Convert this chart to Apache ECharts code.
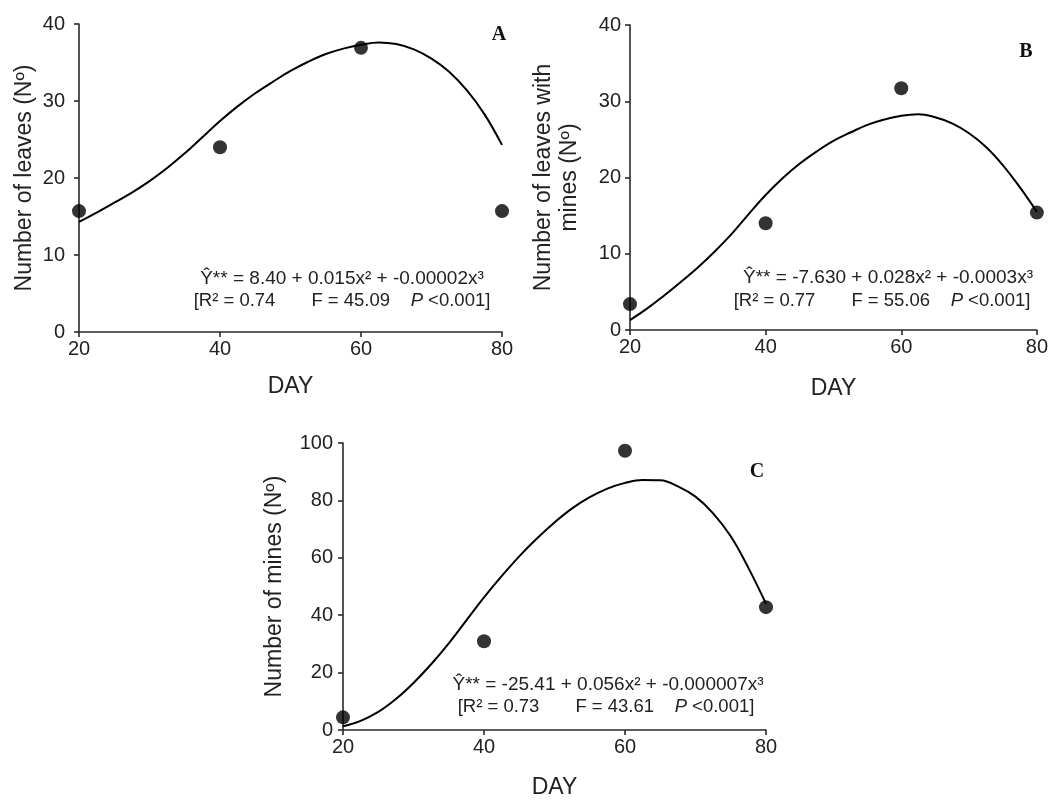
<!DOCTYPE html>
<html><head><meta charset="utf-8">
<script src="https://cdn.jsdelivr.net/npm/echarts@6/dist/echarts.min.js"></script>
<style>html,body{margin:0;padding:0;background:#fff}#c{width:1051px;height:800px}</style>
</head><body><div id="c"></div>
<script>
// Observed data (DAY vs value)
const days = [20, 40, 60, 80];
const leavesA = [15.7, 24.0, 36.9, 15.7];
const minedLeavesB = [3.4, 14.0, 31.7, 15.4];
const minesC = [4.4, 30.9, 97.3, 42.8];

// Fitted curves, every 2.5 days
const fitDays = [20, 22.5, 25, 27.5, 30, 32.5, 35, 37.5, 40, 42.5, 45, 47.5, 50,
                 52.5, 55, 57.5, 60, 62.5, 65, 67.5, 70, 72.5, 75, 77.5, 80];
const fitA = [14.3, 15.5, 16.8, 18.1, 19.6, 21.3, 23.2, 25.3, 27.4, 29.3, 31.0, 32.5, 33.9,
              35.1, 36.1, 36.8, 37.3, 37.6, 37.4, 36.7, 35.5, 33.8, 31.4, 28.3, 24.3];
const fitB = [1.3, 2.8, 4.5, 6.3, 8.2, 10.3, 12.6, 15.2, 17.7, 19.9, 21.8, 23.4, 24.8,
              25.9, 26.9, 27.6, 28.1, 28.3, 27.9, 27.1, 25.8, 24.0, 21.6, 18.7, 15.5];
const fitC = [1.3, 3.2, 6.3, 10.8, 16.4, 22.9, 30.2, 38.2, 46.2, 53.6, 60.5, 66.7, 72.3,
              77.2, 81.1, 84.1, 86.1, 87.1, 87.0, 84.9, 81.3, 75.5, 67.5, 56.5, 44.0];

const xTicks = [20, 40, 60, 80];
const yTicksA = [0, 10, 20, 30, 40];
const yTicksC = [0, 20, 40, 60, 80, 100];

const eqA = ['Ŷ** = 8.40 + 0.015x² + -0.00002x³', '[R² = 0.74', 'F = 45.09', '<0.001]'];
const eqB = ['Ŷ** = -7.630 + 0.028x² + -0.0003x³', '[R² = 0.77', 'F = 55.06', '<0.001]'];
const eqC = ['Ŷ** = -25.41 + 0.056x² + -0.000007x³', '[R² = 0.73', 'F = 43.61', '<0.001]'];

const FONT = '"Liberation Sans", Arial, sans-serif';
const AX = '#2a2a2a';
const TXT = '#222';

function xAx(gi, gap) {
  return {
    type: 'value', gridIndex: gi, min: 20, max: 80, interval: 20,
    name: 'DAY', nameLocation: 'middle', nameGap: gap,
    nameTextStyle: { fontFamily: FONT, fontSize: 23, color: TXT },
    axisLine: { show: true, lineStyle: { color: AX, width: 1.6 } },
    axisTick: { show: true, length: 5, lineStyle: { color: AX, width: 1.6 } },
    axisLabel: { fontFamily: FONT, fontSize: 20, color: TXT, margin: 7 },
    splitLine: { show: false }
  };
}
function yAx(gi, max, interval, name, gap, margin) {
  return {
    type: 'value', gridIndex: gi, min: 0, max: max, interval: interval,
    name: name, nameLocation: 'middle', nameGap: gap,
    nameTextStyle: { fontFamily: FONT, fontSize: 23, color: TXT, lineHeight: 26 },
    axisLine: { show: true, lineStyle: { color: AX, width: 1.6 } },
    axisTick: { show: true, length: 5, lineStyle: { color: AX, width: 1.6 } },
    axisLabel: { fontFamily: FONT, fontSize: 20, color: TXT, margin: margin },
    splitLine: { show: false }
  };
}
function pairs(xs, ys) { return xs.map((x, i) => [x, ys[i]]); }
function scat(i, ys) {
  return { type: 'scatter', xAxisIndex: i, yAxisIndex: i, data: pairs(days, ys),
    symbol: 'circle', symbolSize: 14, itemStyle: { color: '#000' }, z: 3 };
}
function fit(i, ys) {
  return { type: 'line', xAxisIndex: i, yAxisIndex: i, data: pairs(fitDays, ys), smooth: 0.4,
    showSymbol: false, lineStyle: { color: '#000', width: 2 }, z: 2 };
}
function eqText(eq, cx1, cx2, y1, y2) {
  return [
    { type: 'text', x: cx1, y: y1,
      style: { text: eq[0], fill: TXT, font: '19px ' + FONT, textAlign: 'center', textVerticalAlign: 'middle' } },
    { type: 'text', x: cx2, y: y2,
      style: { text: '{a|' + eq[1] + '}       {a|' + eq[2] + '}    {i|P} {a|' + eq[3] + '}',
        rich: { a: { fontFamily: FONT, fontSize: 18.5, color: TXT },
                i: { fontFamily: FONT, fontSize: 18.5, fontStyle: 'italic', color: TXT } },
        fill: TXT, font: '18.5px ' + FONT, textAlign: 'center', textVerticalAlign: 'middle' } }
  ];
}
function panelLabel(t, x, y) {
  return { type: 'text', x: x, y: y,
    style: { text: t, fill: '#111', font: 'bold 20px "Liberation Serif", "Times New Roman", serif', textAlign: 'center', textVerticalAlign: 'middle' } };
}

const chart = echarts.init(document.getElementById('c'), null, { renderer: 'canvas' });
chart.setOption({
  backgroundColor: '#fff',
  animation: false,
  grid: [
    { left: 79, top: 24, width: 423, height: 308 },
    { left: 630, top: 25, width: 408, height: 305 },
    { left: 343, top: 443, width: 423, height: 292 }
  ],
  xAxis: [xAx(0, 43), xAx(1, 47), xAx(2, 46)],
  yAxis: [
    yAx(0, 40, 10, 'Number of leaves (Nº)', 41, 14),
    yAx(1, 40, 10, 'Number of leaves with\nmines (Nº)', 47, 9),
    yAx(2, 100, 20, 'Number of mines (Nº)', 55, 10)
  ],
  series: [
    fit(0, fitA), scat(0, leavesA),
    fit(1, fitB), scat(1, minedLeavesB),
    fit(2, fitC), scat(2, minesC)
  ],
  graphic: [].concat(
    eqText(eqA, 342, 342, 279, 301), eqText(eqB, 888, 882, 278, 301), eqText(eqC, 608, 606, 685, 707),
    [panelLabel('A', 499, 35), panelLabel('B', 1026, 52), panelLabel('C', 757, 472)]
  )
});
</script></body></html>
